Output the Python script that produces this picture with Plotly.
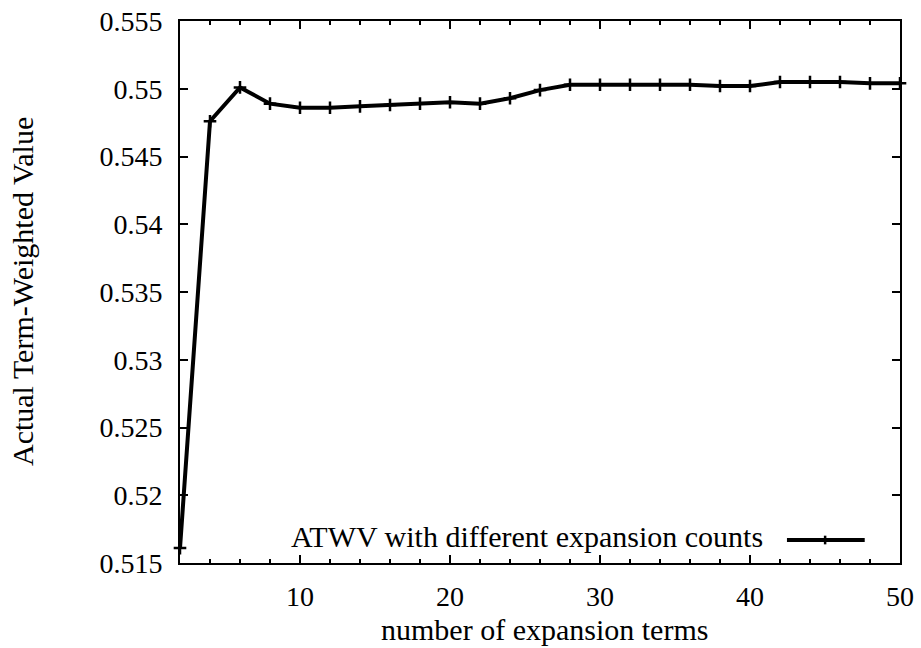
import plotly.graph_objects as go

# Data
expansion_terms = [2, 4, 6, 8, 10, 12, 14, 16, 18, 20, 22, 24, 26,
                   28, 30, 32, 34, 36, 38, 40, 42, 44, 46, 48, 50]
atwv = [0.5161, 0.5476, 0.5501, 0.5489, 0.5486, 0.5486, 0.5487, 0.5488,
        0.5489, 0.5490, 0.5489, 0.5493, 0.5499, 0.5503, 0.5503, 0.5503,
        0.5503, 0.5503, 0.5502, 0.5502, 0.5505, 0.5505, 0.5505, 0.5504,
        0.5504]

x_tick_vals = [10, 20, 30, 40, 50]
x_tick_text = ["10", "20", "30", "40", "50"]
y_tick_vals = [0.515, 0.52, 0.525, 0.53, 0.535, 0.54, 0.545, 0.55, 0.555]
y_tick_text = ["0.515", "0.52", "0.525", "0.53", "0.535", "0.54", "0.545",
               "0.55", "0.555"]

series_name = "ATWV with different expansion counts"
x_title = "number of expansion terms"
y_title = "Actual Term-Weighted Value"

FONT = "Liberation Serif"
TICK_FS = 28
TEXT_FS = 30

fig = go.Figure()
fig.add_trace(go.Scatter(
    x=expansion_terms, y=atwv, mode="lines+markers", name=series_name,
    line=dict(color="black", width=4),
    marker=dict(symbol="cross-thin", size=9, line=dict(color="black", width=2.5)),
    showlegend=False, cliponaxis=False,
))

axis_common = dict(
    showgrid=False, zeroline=False, showline=True, linecolor="black",
    linewidth=2, mirror="ticks", ticks="inside", tickcolor="black",
    tickwidth=2, ticklen=8,
    tickfont=dict(family=FONT, size=TICK_FS, color="black"),
)

fig.update_xaxes(range=[2, 50], tickvals=x_tick_vals, ticktext=x_tick_text,
                 minor=dict(dtick=2, tick0=0, ticks="inside", ticklen=4,
                            tickwidth=2, tickcolor="black", showgrid=False),
                 ticklabelstandoff=7, **axis_common)
fig.update_yaxes(range=[0.515, 0.555], tickvals=y_tick_vals,
                 ticktext=y_tick_text, ticklabelstandoff=10, **axis_common)

# legend (text left of sample, gnuplot style)
fig.add_annotation(text=series_name, xref="paper", yref="paper", x=0.8125,
                   y=0.048, xanchor="right", yanchor="middle", showarrow=False,
                   font=dict(family=FONT, size=TEXT_FS, color="black"))
leg_y = 0.0424
fig.add_shape(type="line", xref="paper", yref="paper", x0=0.843, x1=0.951,
              y0=leg_y, y1=leg_y, line=dict(color="black", width=4))
fig.add_shape(type="line", xref="paper", yref="paper", x0=0.896, x1=0.896,
              y0=leg_y - 0.008, y1=leg_y + 0.008,
              line=dict(color="black", width=2.5))

fig.add_annotation(text=x_title, xref="paper", yref="paper", x=0.506,
                   y=-0.1568, xanchor="center", yanchor="bottom",
                   showarrow=False,
                   font=dict(family=FONT, size=TEXT_FS, color="black"))
fig.add_annotation(text=y_title, xref="paper", yref="paper", x=-0.2194,
                   y=0.5, xanchor="center", yanchor="middle", textangle=-90,
                   showarrow=False,
                   font=dict(family=FONT, size=TEXT_FS, color="black"))

fig.update_layout(
    width=921, height=648,
    margin=dict(l=180, r=21, t=21, b=85, autoexpand=False),
    plot_bgcolor="white", paper_bgcolor="white",
)

fig.write_html(
    "out.html",
    config={"displayModeBar": False},
    post_script="document.body.style.margin='0';"
                "document.body.style.overflow='hidden';",
)
